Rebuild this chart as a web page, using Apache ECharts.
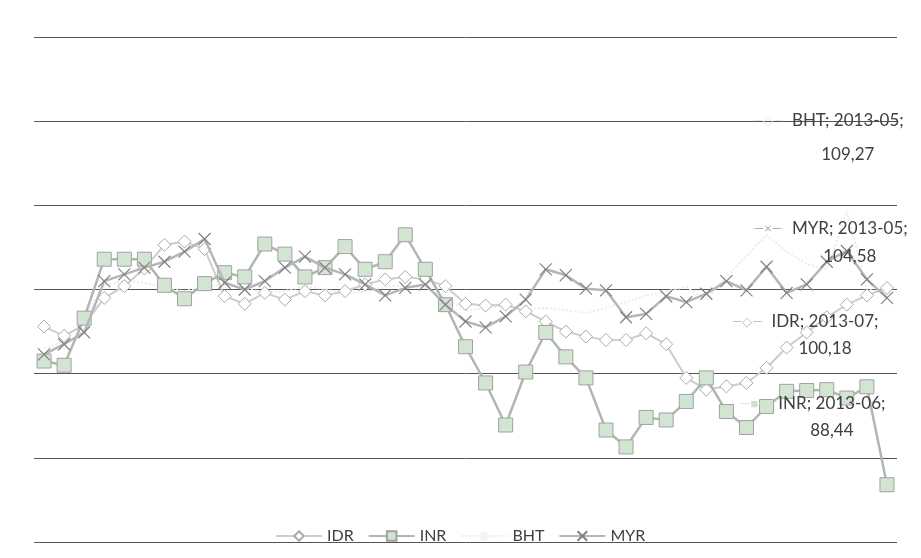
<!DOCTYPE html>
<html>
<head>
<meta charset="utf-8">
<script src="https://cdn.jsdelivr.net/npm/echarts@6/dist/echarts.min.js"></script>
<style>
  html, body { margin: 0; padding: 0; background: #ffffff; }
  #chart { width: 921px; height: 558px; }
</style>
</head>
<body>
<div id="chart"></div>
<script>
// Monthly index values, 2010-01 .. 2013-07
const months = [
  '2010-01','2010-02','2010-03','2010-04','2010-05','2010-06','2010-07','2010-08','2010-09','2010-10','2010-11','2010-12',
  '2011-01','2011-02','2011-03','2011-04','2011-05','2011-06','2011-07','2011-08','2011-09','2011-10','2011-11','2011-12',
  '2012-01','2012-02','2012-03','2012-04','2012-05','2012-06','2012-07','2012-08','2012-09','2012-10','2012-11','2012-12',
  '2013-01','2013-02','2013-03','2013-04','2013-05','2013-06','2013-07'
];

const idr = [
  95.6, 94.5, 95.8, 99.0, 100.4, 102.5, 105.3, 105.7, 104.8, 99.2, 98.3, 99.6,
  98.8, 99.8, 99.3, 99.8, 100.6, 101.2, 101.5, 101.2, 100.4, 98.3, 98.1, 98.2,
  97.4, 96.2, 95.0, 94.4, 94.0, 94.0, 94.8, 93.5, 89.5, 88.1, 88.5, 88.9,
  90.7, 93.1, 94.9, 96.7, 98.2, 99.3, 100.18
];

const inr = [
  91.5, 91.0, 96.6, 103.6, 103.6, 103.6, 100.5, 98.9, 100.7, 102.0, 101.5, 105.4,
  104.2, 101.5, 102.6, 105.1, 102.4, 103.3, 106.5, 102.4, 98.2, 93.2, 88.9, 83.9,
  90.2, 94.9, 92.0, 89.5, 83.3, 81.3, 84.8, 84.5, 86.7, 89.5, 85.5, 83.6,
  86.1, 87.9, 88.0, 88.1, 87.1, 88.44, 76.8
];

const bht = [
  93.0, 93.8, 96.5, 100.5, 101.0, 100.8, 100.2, 99.8, 100.3, 100.6, 100.2, 99.6,
  99.8, 100.4, 100.0, 99.5, 99.8, 100.3, 100.5, 100.2, 99.0, 97.5, 97.8, 98.0,
  97.6, 97.8, 97.5, 97.2, 97.8, 98.5, 99.3, 99.8, 100.3, 98.8, 101.5, 104.0,
  106.5, 104.5, 103.0, 102.4, 109.27, 100.0, 99.6
];

const myr = [
  92.3, 93.5, 94.9, 101.0, 101.8, 102.6, 103.3, 104.5, 106.0, 100.8, 100.0, 101.0,
  102.6, 103.9, 102.6, 101.8, 100.6, 99.3, 100.2, 100.6, 98.2, 96.2, 95.5, 96.8,
  98.8, 102.4, 101.7, 100.1, 99.9, 96.7, 97.1, 99.2, 98.5, 99.5, 101.0, 99.9,
  102.7, 99.6, 100.6, 103.3, 104.58, 101.2, 99.0
];

const yTicks = [70, 80, 90, 100, 110, 120, 130];

const FONT = 'Lato, "Noto Sans", sans-serif';
const X_PATH = 'path://M0,0L10,10M10,0L0,10';

// Callout label shown on one point: "NAME; month;" over the value
function callout(seriesName, keyGlyph, keyColor, dx, dy, lh) {
  return {
    show: true,
    position: 'inside',
    offset: [dx, dy],
    align: 'center',
    verticalAlign: 'middle',
    formatter: function (p) {
      const v = Number(p.value).toFixed(2).replace('.', ',');
      return '{k|' + keyGlyph + '}{t|' + seriesName + '; ' + p.name + ';}{p|}\n{v|' + v + '}';
    },
    rich: {
      k: { width: 48, align: 'center', color: keyColor, fontSize: 13, fontFamily: FONT, lineHeight: lh },
      p: { width: 48, lineHeight: lh },
      t: { fontSize: 17, color: '#404040', fontFamily: FONT, lineHeight: lh },
      v: { fontSize: 17, color: '#404040', fontFamily: FONT, lineHeight: lh }
    }
  };
}

function withCallout(values, idx, label) {
  return values.map(function (v, i) {
    return i === idx ? { value: v, label: label } : v;
  });
}

const chart = echarts.init(document.getElementById('chart'), null, { renderer: 'canvas' });

chart.setOption({
  backgroundColor: '#ffffff',
  animation: false,
  textStyle: { fontFamily: FONT },
  grid: { left: 34, right: 24, top: 37, bottom: 16, containLabel: false },
  legend: {
    left: 270,
    top: 523,
    itemWidth: 46,
    itemHeight: 12,
    itemGap: 14,
    textStyle: { fontSize: 16, color: '#404040', fontFamily: FONT },
    data: ['IDR', 'INR', 'BHT', 'MYR']
  },
  xAxis: {
    type: 'category',
    data: months,
    boundaryGap: true,
    axisLine: { show: false },
    axisTick: { show: false },
    axisLabel: { show: false },
    splitLine: { show: false }
  },
  yAxis: {
    type: 'value',
    min: yTicks[0],
    max: yTicks[yTicks.length - 1],
    interval: 10,
    axisLine: { show: false },
    axisTick: { show: false },
    axisLabel: { show: false },
    splitLine: { show: true, lineStyle: { color: '#555555', width: 1 } }
  },
  series: [
    {
      name: 'BHT',
      type: 'line',
      z: 2,
      data: withCallout(bht, 40, callout('BHT', '—◇—', '#e6e6e6', 1, -74, 34)),
      symbol: 'circle',
      symbolSize: 1,
      showSymbol: true,
      showAllSymbol: true,
      itemStyle: { color: '#f4f4f4' },
      lineStyle: { color: '#ececec', width: 2, type: 'dotted' }
    },
    {
      name: 'IDR',
      type: 'line',
      z: 3,
      data: withCallout(idr, 42, callout('IDR', '—◇—', '#bbbbbb', -62, 47, 27)),
      symbol: 'diamond',
      symbolSize: 13,
      showAllSymbol: true,
      itemStyle: { color: '#ffffff', borderColor: '#ababab', borderWidth: 1 },
      lineStyle: { color: '#cdcdcd', width: 2 }
    },
    {
      name: 'INR',
      type: 'line',
      z: 4,
      data: withCallout(inr, 41, callout('INR', '—■—', '#d0e0d0', -35, 30.5, 27)),
      symbol: 'rect',
      symbolSize: 14,
      showAllSymbol: true,
      itemStyle: { color: '#d2e4d2', borderColor: '#a2a2a2', borderWidth: 1 },
      lineStyle: { color: '#aeb8ae', width: 2.5 }
    },
    {
      name: 'MYR',
      type: 'line',
      z: 5,
      data: withCallout(myr, 40, callout('MYR', '—×—', '#aaaaaa', 3, -8.5, 28)),
      symbol: X_PATH,
      symbolSize: 12,
      showAllSymbol: true,
      itemStyle: { color: 'rgba(0,0,0,0)', borderColor: '#808080', borderWidth: 1.2 },
      lineStyle: { color: '#b6b6b6', width: 2.5 }
    }
  ]
});
</script>
</body>
</html>
